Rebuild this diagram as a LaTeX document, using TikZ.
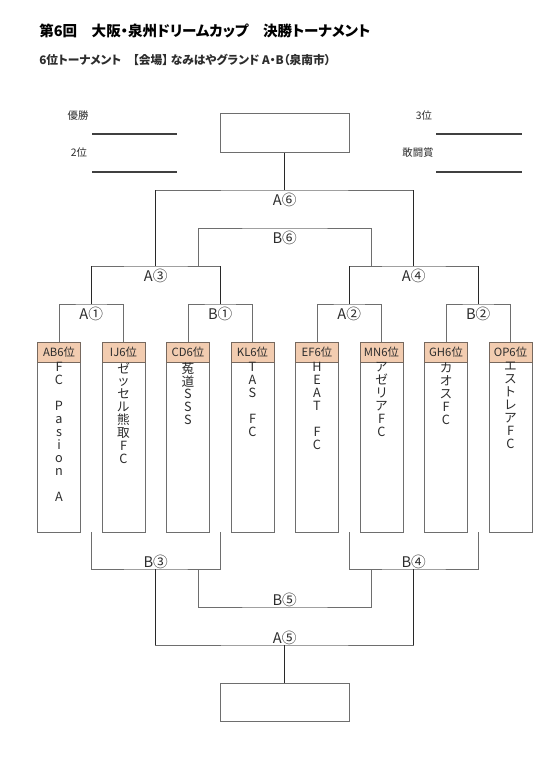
\documentclass[tikz,border=0pt]{standalone}
\usepackage{fontspec}
\setmainfont{Noto Sans CJK JP}[RawFeature=+palt]
\usetikzlibrary{calc}

\definecolor{hdrfill}{RGB}{242,204,176}
\definecolor{hdrline}{RGB}{118,104,94}
\definecolor{lineg}{RGB}{110,110,110}
\definecolor{lined}{RGB}{40,40,40}
\definecolor{txtg}{RGB}{45,45,45}

\tikzset{
  thinline/.style={draw=lineg, line width=0.7pt},
  winline/.style={draw=lined, line width=1.05pt},
  awardline/.style={draw=black!75, line width=1.8pt},
  hdr/.style={draw=hdrline, fill=hdrfill, line width=0.7pt, minimum width=32.25pt, minimum height=15pt, inner sep=0pt, font=\fontsize{8.5pt}{9pt}\selectfont, text=txtg},
  teambox/.style={draw=lineg, fill=white, line width=0.7pt, minimum width=32.25pt, minimum height=127.5pt, inner sep=0pt},
  teamtxt/.style={anchor=north, align=center, inner sep=0.5pt, font=\fontsize{9.5pt}{9.7pt}\selectfont, text=txtg},
  resbox/.style={draw=lineg, line width=0.7pt, minimum width=96.75pt, minimum height=28.75pt, inner sep=0pt},
  toplbl/.style={anchor=north, inner sep=2pt, font=\fontsize{11pt}{12pt}\selectfont, text=txtg},
  botlbl/.style={anchor=south, inner sep=0pt, font=\fontsize{11pt}{12pt}\selectfont, text=txtg},
  award/.style={font=\fontsize{7.8pt}{8pt}\selectfont, text=txtg, inner sep=0pt}
}

\begin{document}
\begin{tikzpicture}[x=0.75pt,y=0.75pt,yscale=-1,xscale=1]
\path[use as bounding box, fill=white] (0,0) rectangle (546,773);

% Text Node
\node[anchor=west, inner sep=0pt, font=\fontsize{10.9pt}{12pt}\selectfont\bfseries] (title) at (39,31) {第6回　大阪・泉州ドリームカップ　決勝トーナメント};
% Text Node
\node[anchor=west, inner sep=0pt, font=\fontsize{8.8pt}{9pt}\selectfont\bfseries, text=txtg] (venue) at (39,60) {6位トーナメント　【会場】 なみはやグランド A・B（泉南市）};

% Text Node
\node[award] (win) at (78,116) {優勝};
\node[award] (second) at (79,153) {2位};
\node[award] (third) at (424,116) {3位};
\node[award] (fight) at (418,153) {敢闘賞};
%Straight Lines
\draw[awardline] (92,134) -- (177,134);
\draw[awardline] (92,172) -- (177,172);
\draw[awardline] (436,134) -- (522,134);
\draw[awardline] (436,172) -- (522,172);

%Shape: Rectangle
\node[resbox] (topbox) at (284.75,133) {};
\node[resbox] (botbox) at (284.75,702.5) {};

%Shape: Rectangle
\node[teambox] (b1) at (59,447) {};
\node[teambox] (b2) at (123.5,447) {};
\node[teambox] (b3) at (188,447) {};
\node[teambox] (b4) at (252.5,447) {};
\node[teambox] (b5) at (317,447) {};
\node[teambox] (b6) at (381.5,447) {};
\node[teambox] (b7) at (446,447) {};
\node[teambox] (b8) at (510.5,447) {};

% Text Node
\node[hdr] (h1) at (59,352) {AB6位};
\node[hdr] (h2) at (123.5,352) {IJ6位};
\node[hdr] (h3) at (188,352) {CD6位};
\node[hdr] (h4) at (252.5,352) {KL6位};
\node[hdr] (h5) at (317,352) {EF6位};
\node[hdr] (h6) at (381.5,352) {MN6位};
\node[hdr] (h7) at (446,352) {GH6位};
\node[hdr] (h8) at (510.5,352) {OP6位};

% Text Node
\node[teamtxt] (t1) at (b1.north) {F\\C\\~\\P\\a\\s\\i\\o\\n\\~\\A};
\node[teamtxt] (t2) at (b2.north) {ゼ\\ッ\\セ\\ル\\熊\\取\\F\\C};
\node[teamtxt] (t3) at (b3.north) {菟\\道\\S\\S\\S};
\node[teamtxt] (t4) at (b4.north) {T\\A\\S\\~\\F\\C};
\node[teamtxt] (t5) at (b5.north) {H\\E\\A\\T\\~\\F\\C};
\node[teamtxt] (t6) at (b6.north) {ア\\ゼ\\リ\\ア\\F\\C};
\node[teamtxt] (t7) at (b7.north) {カ\\オ\\ス\\F\\C};
\node[teamtxt] (t8) at (b8.north) {エ\\ス\\ト\\レ\\ア\\F\\C};

% match points
\coordinate (A1) at (91.25,304);
\coordinate (B1) at (220.25,304);
\coordinate (A2) at (349.25,304);
\coordinate (B2) at (478.25,304);
\coordinate (A3) at (155.75,266);
\coordinate (A4) at (413.75,266);
\coordinate (A3r) at (198.25,266);
\coordinate (A4l) at (371.25,266);
\coordinate (B6) at (284.75,228);
\coordinate (A6) at (284.75,190);
\coordinate (lA1) at (91.25,532);
\coordinate (lB1) at (220.25,532);
\coordinate (lA2) at (349.25,532);
\coordinate (lB2) at (478.25,532);
\coordinate (B3) at (155.75,569);
\coordinate (B4) at (413.75,569);
\coordinate (B3r) at (198.25,569);
\coordinate (B4l) at (371.25,569);
\coordinate (B5) at (284.75,607);
\coordinate (A5) at (284.75,645);

%Straight Lines
\draw[thinline] (h1.north) |- (A1) -| (h2.north);
\draw[thinline] (h3.north) |- (B1) -| (h4.north);
\draw[thinline] (h5.north) |- (A2) -| (h6.north);
\draw[thinline] (h7.north) |- (B2) -| (h8.north);
\draw[thinline] (A1) |- (A3) -| (B1);
\draw[thinline] (A2) |- (A4) -| (B2);
\draw[thinline] (A3r) |- (B6) -| (A4l);
\draw[thinline] (A3) |- (A6) -| (A4);
\draw[winline] (A1) -- (A1 |- A3) (B1) -- (B1 |- A3);
\draw[winline] (A2) -- (A2 |- A4) (B2) -- (B2 |- A4);
\draw[winline] (A3) -- (A3 |- A6) (A4) -- (A4 |- A6) (topbox.south) -- (A6);

%Straight Lines
\draw[thinline] (lA1) |- (B3) -| (lB1);
\draw[thinline] (lA2) |- (B4) -| (lB2);
\draw[thinline] (B3r) |- (B5) -| (B4l);
\draw[thinline] (B3) |- (A5) -| (B4);
\draw[winline] (B3) -- (B3 |- A5) (B4) -- (B4 |- A5) (A5) -- (botbox.north);

% Text Node
\node[toplbl] (lblA6) at (A6) {A⑥};
\node[toplbl] (lblB6) at (B6) {B⑥};
\node[toplbl] (lblA3) at (A3) {A③};
\node[toplbl] (lblA4) at (A4) {A④};
\node[toplbl] (lblA1) at (A1) {A①};
\node[toplbl] (lblB1) at (B1) {B①};
\node[toplbl] (lblA2) at (A2) {A②};
\node[toplbl] (lblB2) at (B2) {B②};
\node[botlbl] (lblB3) at (B3) {B③};
\node[botlbl] (lblB4) at (B4) {B④};
\node[botlbl] (lblB5) at (B5) {B⑤};
\node[botlbl] (lblA5) at (A5) {A⑤};

\end{tikzpicture}
\end{document}
